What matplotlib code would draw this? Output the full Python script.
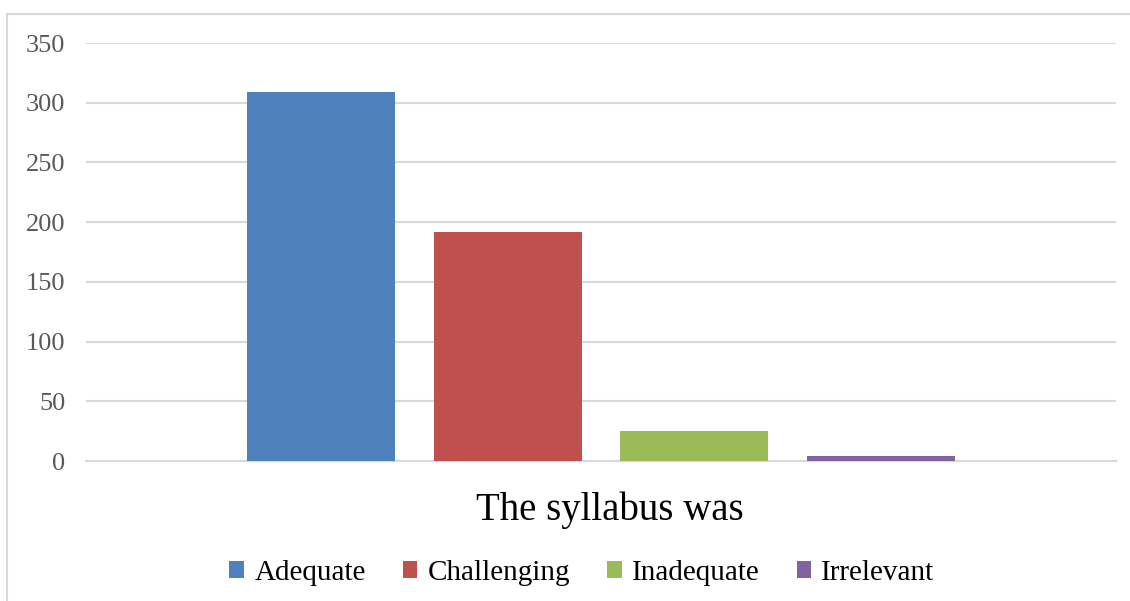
import matplotlib
matplotlib.use("Agg")
import matplotlib.pyplot as plt
from matplotlib.patches import Patch
from matplotlib.lines import Line2D

categories = ["Adequate", "Challenging", "Inadequate", "Irrelevant"]
values = [309, 192, 25, 4]
colors = ["#4F81BD", "#C0504D", "#9BBB59", "#8064A2"]
yticks = [0, 50, 100, 150, 200, 250, 300, 350]
title = "The syllabus was"

plt.rcParams['font.family'] = ['Liberation Serif', 'DejaVu Serif']

fig = plt.figure(figsize=(11.30, 6.01), dpi=100)
ax = fig.add_axes([86/1130, 1-461/601, (1116-86)/1130, (461-43)/601])

step = 0.1815
width = 0.1437
for i, (c, v, col) in enumerate(zip(categories, values, colors)):
    ax.bar((i - 1.5) * step, v, width=width, color=col, zorder=3, label=c)

ax.set_xlim(-0.5, 0.5)
ax.set_ylim(0, 350)
ax.set_yticks(yticks)
ax.set_yticklabels([str(t) for t in yticks])
ax.set_xticks([])
ax.yaxis.grid(True, color="#D9D9D9", linewidth=1.5, zorder=0)
for s in ["left", "right", "top"]:
    ax.spines[s].set_visible(False)
ax.spines["bottom"].set_color("#D9D9D9")
ax.spines["bottom"].set_linewidth(1.5)
ax.tick_params(axis="y", length=0, pad=15, labelsize=19, labelcolor="#595959")

fig.text(610/1130, 1-510/601, title, ha="center", va="center", fontsize=28, color="black")

handles = [Patch(facecolor=c) for c in colors]
fig.legend(handles, categories, loc="center", bbox_to_anchor=(582/1130, 1-573/601),
           ncol=4, frameon=False, fontsize=21, handlelength=0.5, handleheight=0.5,
           handletextpad=0.35, columnspacing=1.27)

# outer chart border
fig.add_artist(Line2D([7/1130, 7/1130], [0, 1-14/601], color="#D9D9D9", linewidth=1.5, transform=fig.transFigure))
fig.add_artist(Line2D([7/1130, 1], [1-14/601, 1-14/601], color="#D9D9D9", linewidth=1.5, transform=fig.transFigure))

fig.savefig("out.png", dpi=100)
